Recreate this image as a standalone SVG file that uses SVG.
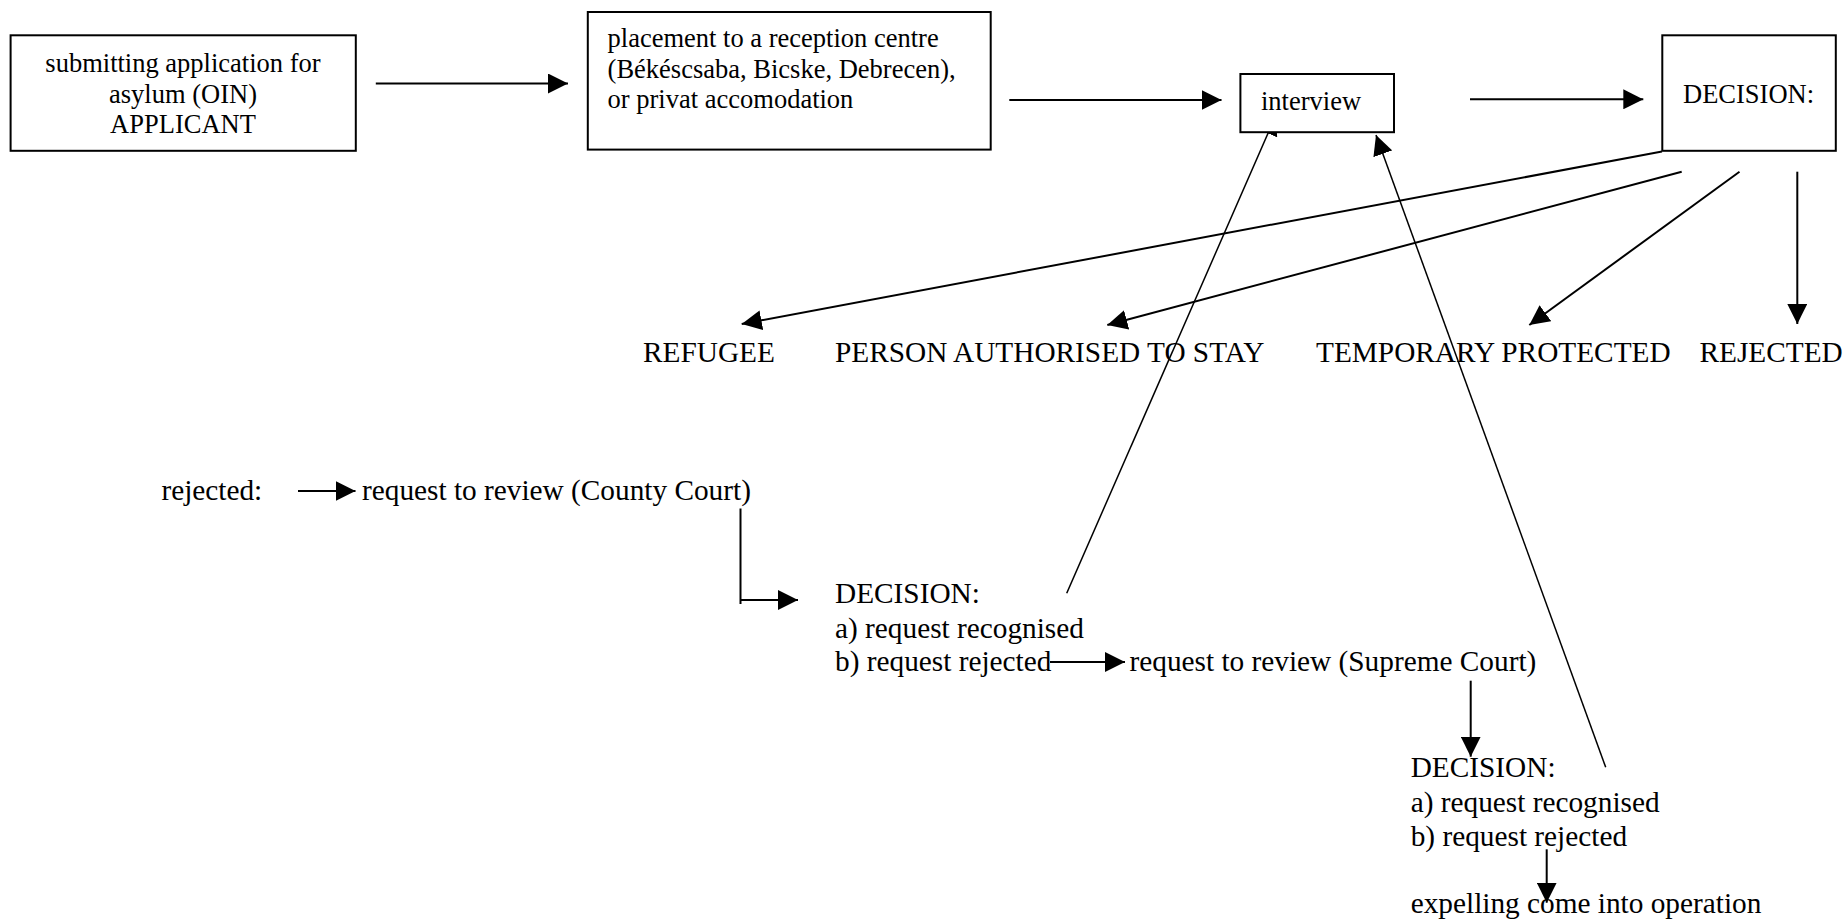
<svg xmlns="http://www.w3.org/2000/svg" width="1847" height="921" viewBox="0 0 1847 921">
<style>
  .box { fill: #fff; stroke: #000; stroke-width: 2; }
  .t { font-family: "Liberation Serif", "Times New Roman", serif; fill: #000; }
  .s { font-size: 26.5px; }
  .l { font-size: 29.3px; }
  .c { stroke: #000; stroke-width: 2; fill: none; }
  .thin { stroke: #000; stroke-width: 1.5; fill: none; }
  .arr { marker-end: url(#ah); }
</style>
<defs>
  <marker id="ah" markerUnits="userSpaceOnUse" markerWidth="20" markerHeight="20" viewBox="0 0 20 20" refX="20" refY="10" orient="auto">
    <path d="M0,0 L20,10 L0,20 z" fill="#000"/>
  </marker>
</defs>
<rect width="1847" height="921" fill="#fff"/>

<g id="connectors">
  <line class="c arr" x1="375.8" y1="83.5" x2="568" y2="83.5"/>
  <line class="c arr" x1="1009.3" y1="100" x2="1221.5" y2="100"/>
  <line class="c arr" x1="1470" y1="99.3" x2="1643.3" y2="99.3"/>
  <line class="c arr" x1="1662" y1="151.5" x2="741.7" y2="324"/>
  <line class="c arr" x1="1681.7" y1="171.7" x2="1107.3" y2="325"/>
  <line class="c arr" x1="1739.5" y1="171.7" x2="1529.3" y2="325"/>
  <line class="c arr" x1="1797.3" y1="171.7" x2="1797.3" y2="324"/>
  <line class="c arr" x1="298" y1="491" x2="355.5" y2="491"/>
  <polyline class="c" points="740.5,508.5 740.5,604"/>
  <line class="c arr" x1="740.5" y1="600" x2="798" y2="600"/>
  <line class="thin arr" x1="1066.7" y1="593.3" x2="1276" y2="115"/>
  <line class="c arr" x1="1050" y1="662" x2="1125" y2="662"/>
  <line class="c arr" x1="1470.7" y1="680.7" x2="1470.7" y2="756.7"/>
  <line class="thin arr" x1="1605.7" y1="767.3" x2="1376" y2="135"/>
  <line class="c arr" x1="1546.7" y1="849.3" x2="1546.7" y2="902.7"/>
</g>

<g id="n-applicant">
  <rect class="box" x="10.6" y="35.3" width="345.2" height="115.5"/>
  <text class="t s" x="183" y="72" text-anchor="middle">submitting application for</text>
  <text class="t s" x="183" y="102.5" text-anchor="middle">asylum (OIN)</text>
  <text class="t s" x="183" y="133" text-anchor="middle">APPLICANT</text>
</g>

<g id="n-placement">
  <rect class="box" x="587.8" y="12" width="402.9" height="137.6"/>
  <text class="t s" x="607.6" y="47">placement to a reception centre</text>
  <text class="t s" x="607.6" y="77.5">(Békéscsaba, Bicske, Debrecen),</text>
  <text class="t s" x="607.6" y="108">or privat accomodation</text>
</g>

<g id="n-interview">
  <rect class="box" x="1240.4" y="74" width="153.6" height="58.2"/>
  <text class="t s" x="1261" y="110">interview</text>
</g>

<g id="n-decision">
  <rect class="box" x="1662.3" y="35.3" width="173.5" height="115.5"/>
  <text class="t s" x="1683" y="103.3">DECISION:</text>
</g>

<g id="n-refugee"><text class="t l" x="643" y="361.7">REFUGEE</text></g>
<g id="n-person"><text class="t l" x="835" y="361.7">PERSON AUTHORISED TO STAY</text></g>
<g id="n-temporary"><text class="t l" x="1316" y="361.7">TEMPORARY PROTECTED</text></g>
<g id="n-rejected"><text class="t l" x="1699.5" y="361.7">REJECTED</text></g>

<g id="n-rejected-label"><text class="t l" x="161.4" y="500">rejected:</text></g>
<g id="n-county"><text class="t l" x="362" y="500">request to review (County Court)</text></g>

<g id="n-decision1">
  <text class="t l" x="835" y="603.3">DECISION:</text>
  <text class="t l" x="835" y="637.5">a) request recognised</text>
  <text class="t l" x="835" y="671">b) request rejected</text>
</g>

<g id="n-supreme"><text class="t l" x="1129.5" y="671">request to review (Supreme Court)</text></g>

<g id="n-decision2">
  <text class="t l" x="1410.7" y="777">DECISION:</text>
  <text class="t l" x="1410.7" y="811.7">a) request recognised</text>
  <text class="t l" x="1410.7" y="846">b) request rejected</text>
</g>

<g id="n-expelling"><text class="t l" x="1410.7" y="913">expelling come into operation</text></g>
</svg>
